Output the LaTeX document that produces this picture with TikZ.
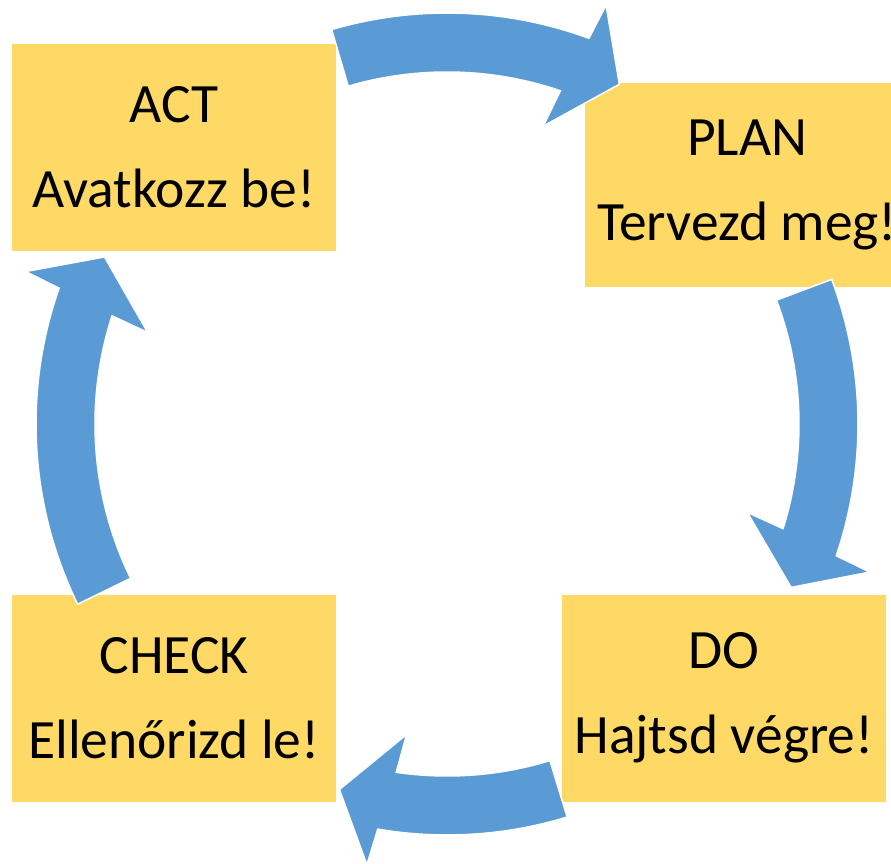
\documentclass[tikz,border=0pt]{standalone}
\usepackage{fontspec}
\setmainfont{Carlito}
\definecolor{cycblue}{HTML}{5B9BD5}
\definecolor{cycgold}{HTML}{FFD966}
% block arc arrow: #1 tail angle, #2 tip angle
\newcommand{\cycarrow}[2]{%
  \filldraw[arrowfill] (#1:411) arc[start angle=#1, end angle=#2+6.7, radius=411]
    -- (#2+6.1:448) -- (#2:381) -- (#2+9:313) -- (#2+8.1:352)
    arc[start angle=#2+8.1, end angle=#1, radius=352] -- cycle;}

\begin{document}
\begin{tikzpicture}[x=1pt,y=1pt,
    phase/.style={fill=cycgold, minimum width=324pt, minimum height=207pt, inner sep=0pt,
      align=center, font=\fontsize{55.5}{85}\selectfont},
    arrowfill/.style={fill=cycblue, draw=white, line width=1.5pt, line join=miter}]
  \useasboundingbox (-447,-440) rectangle (444,424);
  \clip (-447,-440) rectangle (444,424);
  \coordinate (hub) at (0,0);

  \node[phase] (act) at (-273,276.5) {ACT\\Avatkozz be!};
  \node[phase, minimum height=204pt] (plan) at (300,239) {PLAN\\Tervezd meg!};
  \node[phase] (do) at (277,-274) {DO\\Hajtsd végre!};
  \node[phase] (check) at (-273,-274) {CHECK\\Ellenőrizd le!};

  \cycarrow{106.3}{63.1}
  \cycarrow{20.6}{-25.4}
  \cycarrow{-73}{-106.4}
  \cycarrow{206}{154}
\end{tikzpicture}
\end{document}
